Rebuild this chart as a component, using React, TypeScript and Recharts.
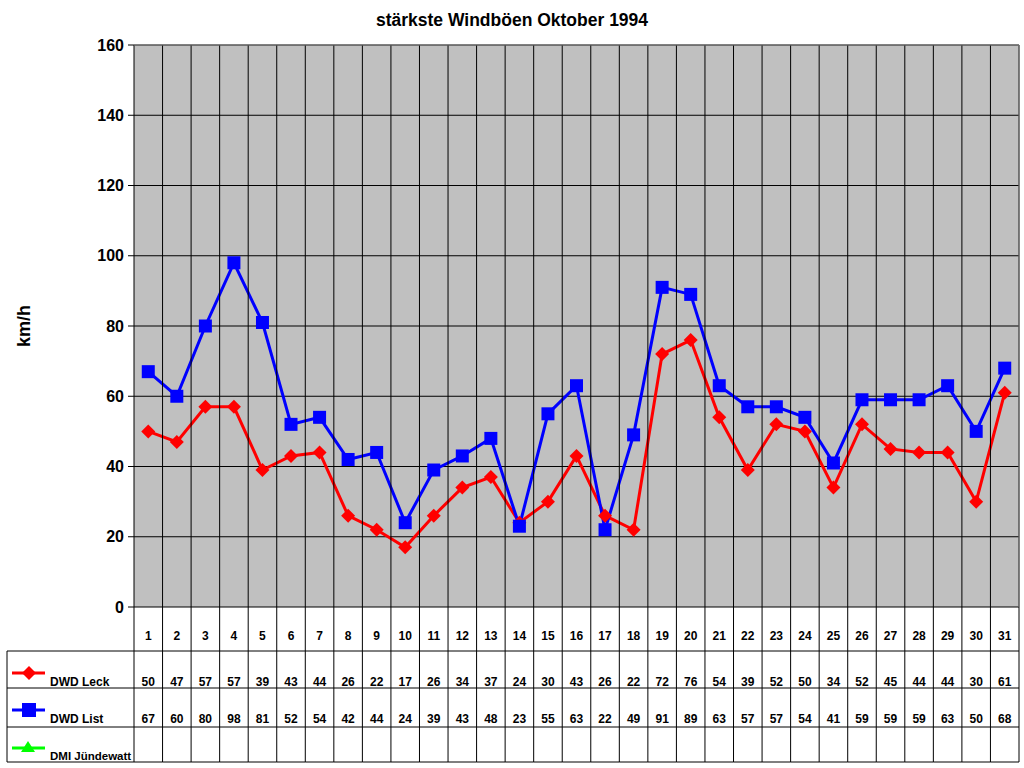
import { LineChart, Line, XAxis, YAxis, CartesianGrid } from 'recharts';

const days = ['1','2','3','4','5','6','7','8','9','10','11','12','13','14','15','16','17','18','19','20','21','22','23','24','25','26','27','28','29','30','31'];
const dwdLeck = [50,47,57,57,39,43,44,26,22,17,26,34,37,24,30,43,26,22,72,76,54,39,52,50,34,52,45,44,44,30,61];
const dwdList = [67,60,80,98,81,52,54,42,44,24,39,43,48,23,55,63,22,49,91,89,63,57,57,54,41,59,59,59,63,50,68];
const yTicks = [0,20,40,60,80,100,120,140,160];

const data = days.map((d, i) => ({ day: d, leck: dwdLeck[i], list: dwdList[i] }));

const FONT = '"Liberation Sans", Arial, sans-serif';
const PLOT_LEFT = 134;
const PLOT_RIGHT = 1019;
const PLOT_TOP = 45;
const PLOT_BOTTOM = 607;
const ROW1 = 651;
const ROW2 = 688;
const ROW3 = 727;
const TABLE_BOTTOM = 762;
const STEP = (PLOT_RIGHT - PLOT_LEFT) / days.length;

function TableTick(props: any) {
    const { x, payload, index } = props;
    const left = x - STEP / 2;
    const right = x + STEP / 2;
    const i = index ?? payload.index;
    return (
        <g>
            <line x1={right} y1={PLOT_TOP} x2={right} y2={TABLE_BOTTOM} stroke="#000" strokeWidth={1} />
            {i === 0 && <line x1={left} y1={PLOT_BOTTOM} x2={left} y2={TABLE_BOTTOM} stroke="#000" strokeWidth={1} />}
            {[ROW1, ROW2, ROW3, TABLE_BOTTOM].map((yy) => (
                <line key={yy} x1={left} y1={yy} x2={right} y2={yy} stroke="#000" strokeWidth={1} />
            ))}
            <text x={x} y={640} textAnchor="middle" fontFamily={FONT} fontWeight="bold" fontSize={12} fill="#000">{payload.value}</text>
            <text x={x} y={686} textAnchor="middle" fontFamily={FONT} fontWeight="bold" fontSize={12} fill="#000">{dwdLeck[i]}</text>
            <text x={x} y={723} textAnchor="middle" fontFamily={FONT} fontWeight="bold" fontSize={12} fill="#000">{dwdList[i]}</text>
        </g>
    );
}

function Diamond(props: any) {
    const { cx, cy } = props;
    if (cx == null || cy == null) return null;
    return <polygon points={`${cx},${cy - 7} ${cx + 7},${cy} ${cx},${cy + 7} ${cx - 7},${cy}`} fill="#ff0000" />;
}

function Square(props: any) {
    const { cx, cy } = props;
    if (cx == null || cy == null) return null;
    return <rect x={cx - 6.5} y={cy - 6.5} width={13} height={13} fill="#0000ff" />;
}

export default function App() {
    return (
        <div style={{ position: 'absolute', left: 0, top: 0, width: 1024, height: 768, background: '#fff' }}>
            <LineChart width={1024} height={768} data={data} margin={{ top: PLOT_TOP, right: 1024 - PLOT_RIGHT, left: 0, bottom: 768 - TABLE_BOTTOM }}>
                <CartesianGrid vertical={false} horizontal stroke="#000" strokeOpacity={1} fill="#c0c0c0" fillOpacity={1} />
                <XAxis dataKey="day" scale="point" padding={{ left: STEP / 2, right: STEP / 2 }} height={TABLE_BOTTOM - PLOT_BOTTOM} axisLine={false} tickLine={false} interval={0} tick={<TableTick />} />
                <YAxis width={PLOT_LEFT} domain={[0, 160]} ticks={yTicks} interval={0} axisLine={{ stroke: '#000' }} tickLine={{ stroke: '#000' }} tickSize={6} tickMargin={4}
                    tick={{ fontFamily: FONT, fontWeight: 'bold', fontSize: 16, fill: '#000' }} />
                <Line dataKey="leck" stroke="#ff0000" strokeWidth={3} dot={<Diamond />} isAnimationActive={false} />
                <Line dataKey="list" stroke="#0000ff" strokeWidth={3} dot={<Square />} isAnimationActive={false} />
            </LineChart>
            <svg width={1024} height={768} style={{ position: 'absolute', left: 0, top: 0, pointerEvents: 'none' }}>
                <line x1={PLOT_LEFT} y1={PLOT_TOP} x2={PLOT_RIGHT} y2={PLOT_TOP} stroke="#808080" />
                <line x1={PLOT_RIGHT} y1={PLOT_TOP} x2={PLOT_RIGHT} y2={PLOT_BOTTOM} stroke="#808080" />
                <text x={512} y={26} textAnchor="middle" fontFamily={FONT} fontWeight="bold" fontSize={17.5} fill="#000">stärkste Windböen Oktober 1994</text>
                <text x={30} y={326} textAnchor="middle" fontFamily={FONT} fontWeight="bold" fontSize={18} fill="#000" transform="rotate(-90 30 326)">km/h</text>
                <line x1={7} y1={ROW1} x2={PLOT_LEFT} y2={ROW1} stroke="#000" />
                <line x1={7} y1={ROW2} x2={PLOT_LEFT} y2={ROW2} stroke="#000" />
                <line x1={7} y1={ROW3} x2={PLOT_LEFT} y2={ROW3} stroke="#000" />
                <line x1={7} y1={TABLE_BOTTOM} x2={PLOT_LEFT} y2={TABLE_BOTTOM} stroke="#000" />
                <line x1={7} y1={ROW1} x2={7} y2={TABLE_BOTTOM} stroke="#000" />
                <line x1={12} y1={673} x2={45} y2={673} stroke="#ff0000" strokeWidth={3} />
                <polygon points="29,666 36,673 29,680 22,673" fill="#ff0000" />
                <text x={50} y={686} fontFamily={FONT} fontWeight="bold" fontSize={12} fill="#000">DWD Leck</text>
                <line x1={12} y1={710} x2={45} y2={710} stroke="#0000ff" strokeWidth={3} />
                <rect x={22} y={703} width={14} height={14} fill="#0000ff" />
                <text x={50} y={723} fontFamily={FONT} fontWeight="bold" fontSize={12} fill="#000">DWD List</text>
                <line x1={12} y1={748} x2={45} y2={748} stroke="#00ff00" strokeWidth={3} />
                <polygon points="28,741 35,752 21,752" fill="#00ff00" />
                <text x={50} y={760} fontFamily={FONT} fontWeight="bold" fontSize={11.5} fill="#000">DMI Jündewatt</text>
            </svg>
        </div>
    );
}
